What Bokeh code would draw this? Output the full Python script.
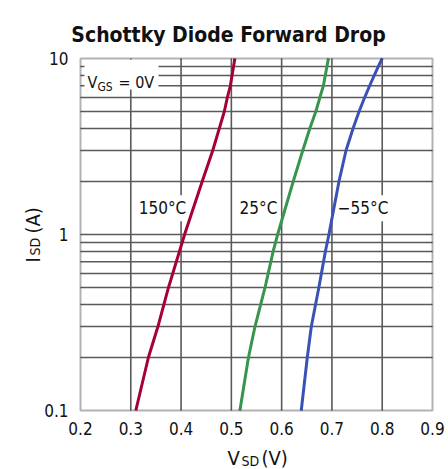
from bokeh.plotting import figure
from bokeh.models import Range1d, Label, BoxAnnotation
from bokeh.core.properties import value
from bokeh.embed import file_html
from bokeh.resources import INLINE
import math

# ---- data ----
red_I = [0.1, 0.2, 0.3, 0.5, 1, 2, 3, 4, 5, 6, 7, 10]
red_V = [0.310, 0.335, 0.354, 0.375, 0.407, 0.442, 0.463, 0.476, 0.486, 0.492, 0.498, 0.507]
green_I = [0.1, 0.2, 0.3, 0.5, 0.8, 1, 2, 3, 4, 5, 6, 7, 10]
green_V = [0.517, 0.534, 0.547, 0.567, 0.583, 0.592, 0.623, 0.642, 0.656, 0.668, 0.676, 0.683, 0.693]
blue_I = [0.1, 0.2, 0.3, 0.5, 0.8, 1, 2, 3, 4, 5, 6, 7, 9, 10]
blue_V = [0.639, 0.651, 0.659, 0.674, 0.687, 0.694, 0.714, 0.728, 0.742, 0.754, 0.765, 0.775, 0.792, 0.800]
series_labels = ["150°C", "25°C", "\u221255°C"]
series_label_V = [0.363, 0.554, 0.762]
series_label_I = [1.41, 1.41, 1.41]

x_ticks = [0.2, 0.3, 0.4, 0.5, 0.6, 0.7, 0.8, 0.9]
x_tick_labels = ["0.2", "0.3", "0.4", "0.5", "0.6", "0.7", "0.8", "0.9"]
y_ticks = [0.1, 1, 10]
y_tick_labels = ["0.1", "1", "10"]
y_grid = [0.2, 0.3, 0.4, 0.5, 0.6, 0.7, 0.8, 0.9, 1, 2, 3, 4, 5, 6, 7, 8, 9]
x_grid = [0.3, 0.4, 0.5, 0.6, 0.7, 0.8]
X_MIN, X_MAX = 0.2, 0.9
Y_MIN, Y_MAX = 0.1, 10

# ---- layout ----
W, H = 448, 469
LEFT, RIGHT, TOP, BOTTOM = 80, 16, 58, 59       # margins around the plotting box (px)
FONT = "DejaVu Sans Condensed"
RED, GREEN, BLUE = "#a5003a", "#37954e", "#3a52b5"
GRID = "#5a5a5a"
INK = "#111111"

# the figure's frame fills the whole canvas; ranges are widened so that the
# data box sits where the reference puts it
fw, fh = W - LEFT - RIGHT, H - TOP - BOTTOM
ppx = fw / (X_MAX - X_MIN)
dec = math.log10(Y_MAX) - math.log10(Y_MIN)
ppd = fh / dec
x_range = Range1d(X_MIN - LEFT / ppx, X_MAX + RIGHT / ppx)
y_range = Range1d(Y_MIN / 10 ** (BOTTOM / ppd), Y_MAX * 10 ** (TOP / ppd))

p = figure(width=W, height=H, output_backend="svg", toolbar_location=None,
           y_axis_type="log", x_range=x_range, y_range=y_range,
           min_border=0, min_border_left=0, min_border_right=0,
           min_border_top=0, min_border_bottom=0)
p.axis.visible = False
p.grid.visible = False
p.outline_line_color = None
p.background_fill_color = "white"
p.border_fill_color = "white"

# grid lines
p.segment(x0=x_grid, y0=[Y_MIN] * len(x_grid), x1=x_grid, y1=[Y_MAX] * len(x_grid),
          line_color=GRID, line_width=1.6)
p.segment(x0=[X_MIN] * len(y_grid), y0=y_grid, x1=[X_MAX] * len(y_grid), y1=y_grid,
          line_color=GRID, line_width=1.6)

# white box behind the V_GS note
p.quad(left=X_MIN + 4 / ppx, right=X_MIN + 78 / ppx,
       top=Y_MAX / 10 ** (1 / ppd), bottom=Y_MAX / 10 ** (31 / ppd),
       fill_color="white", line_color=None)

# curve labels with white background (drawn after grid, before curves)
p.text(x=series_label_V, y=series_label_I, text=series_labels,
       text_font=value(FONT), text_font_size="17px", text_align="center",
       text_baseline="middle", text_color=INK,
       background_fill_color="white", padding=3)

# frame
p.add_layout(BoxAnnotation(left=X_MIN, right=X_MAX, bottom=Y_MIN, top=Y_MAX,
                           fill_alpha=0, line_color="black", line_width=2, level="glyph"))

# curves
p.line(red_V, red_I, line_color=RED, line_width=3)
p.line(green_V, green_I, line_color=GREEN, line_width=3)
p.line(blue_V, blue_I, line_color=BLUE, line_width=3)

# tick labels
p.text(x=x_ticks, y=[Y_MIN] * len(x_ticks), text=x_tick_labels, y_offset=11,
       text_align="center", text_baseline="top", text_font=value(FONT),
       text_font_size="17px", text_color=INK)
p.text(x=[X_MIN] * len(y_ticks), y=y_ticks, text=y_tick_labels, x_offset=-12,
       text_align="right", text_baseline="middle", text_font=value(FONT),
       text_font_size="17px", text_color=INK)


def lab(text, x, y, size, angle=0.0, bold=False, align="left"):
    # canvas units: pixels from the canvas top-left
    p.add_layout(Label(x=x, y=y, x_units="canvas", y_units="canvas", text=text,
                       text_font=FONT, text_font_size=size, text_align=align,
                       text_baseline="alphabetic", angle=angle, text_color=INK,
                       text_font_style="bold" if bold else "normal", level="overlay"))

# V_GS = 0V
lab("V", 87, 82, "16px")
lab("GS", 97, 86, "12px")
lab("= 0V", 118, 82, "16px")

# x axis label  V_SD (V)
lab("V", 227, 457, "20px")
lab("SD", 241, 460, "14px")
lab("(V)", 261, 457, "20px")

# y axis label  I_SD (A) rotated
lab("I", 32, 262, "20px", angle=math.pi / 2)
lab("SD", 34, 255, "14px", angle=math.pi / 2)
lab("(A)", 32, 233, "20px", angle=math.pi / 2)

# title
lab("Schottky Diode Forward Drop", 228, 34, "21px", bold=True, align="center")

open("out.html", "w").write(file_html(p, INLINE))
